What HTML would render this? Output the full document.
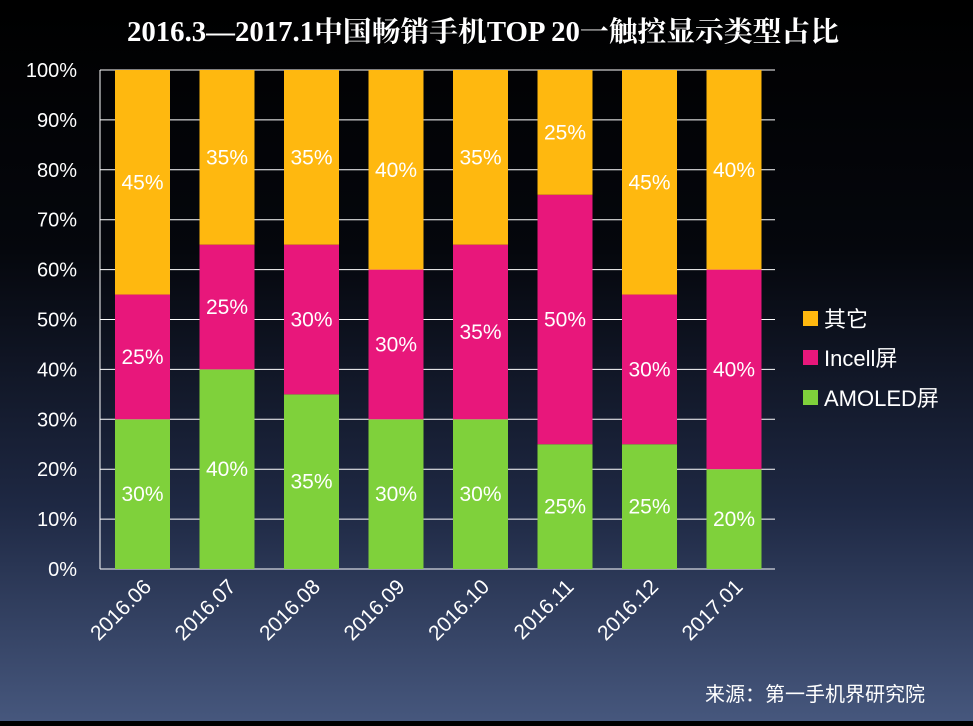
<!DOCTYPE html>
<html><head><meta charset="utf-8">
<style>
html,body{margin:0;padding:0;}
body{width:973px;height:721px;overflow:hidden;background:linear-gradient(to bottom,#000 0%,#05070d 35%,#1e2843 70%,#46577d 100%);font-family:"Liberation Sans","Noto Sans CJK SC",sans-serif;}
svg text{fill:#fff;}
</style></head>
<body>
<svg id="chart" width="973" height="721" xmlns="http://www.w3.org/2000/svg">
<text x="483" y="41" text-anchor="middle" font-family="Liberation Serif,Noto Serif CJK SC,serif" font-weight="bold" font-size="28" textLength="712" lengthAdjust="spacingAndGlyphs">2016.3—2017.1中国畅销手机TOP 20一触控显示类型占比</text>
<g id="grid"></g><g id="bars"></g><g id="labels"></g><g id="axes"></g>
<g>
<rect x="803" y="311" width="15" height="15" fill="#FFB80F"/>
<text x="824" y="327" font-size="22">其它</text>
<rect x="803" y="350" width="15" height="15" fill="#E8177B"/>
<text x="824" y="366" font-size="22">Incell屏</text>
<rect x="803" y="390" width="15" height="15" fill="#7FD13B"/>
<text x="824" y="406" font-size="22">AMOLED屏</text>
</g>
<text x="925" y="701" text-anchor="end" font-size="20">来源：第一手机界研究院</text>
</svg>
<script>
const categories=["2016.06","2016.07","2016.08","2016.09","2016.10","2016.11","2016.12","2017.01"];
const amoled=[30,40,35,30,30,25,25,20];
const incell=[25,25,30,30,35,50,30,40];
const other=[45,35,35,40,35,25,45,40];
const yTicks=[0,10,20,30,40,50,60,70,80,90,100];
const NS="http://www.w3.org/2000/svg";
const x0=100,x1=775,yB=569,yT=70,step=84.5,bw=55,off=15;
const y=v=>yB-(yB-yT)*v/100;
const xs=i=>x0+off+i*step;
function mk(tag,attrs,parent){const e=document.createElementNS(NS,tag);for(const k in attrs)e.setAttribute(k,attrs[k]);parent.appendChild(e);return e;}
const grid=document.getElementById('grid'),bars=document.getElementById('bars'),labels=document.getElementById('labels'),axes=document.getElementById('axes');
yTicks.forEach(t=>{
 const l=mk('line',{x1:x0,x2:x1,y1:y(t),y2:y(t),stroke:'#fff','stroke-width':1},grid);
 
 
 const tx=mk('text',{x:77,y:y(t)+7,'text-anchor':'end','font-size':20},axes);
 tx.textContent=t+'%';
 
 
});
const ax=mk('line',{x1:x0,x2:x0,y1:yT,y2:yB,stroke:'#fff','stroke-width':1},axes);


const series=[["amoled",amoled,"#7FD13B"],["incell",incell,"#E8177B"],["other",other,"#FFB80F"]];
categories.forEach((c,i)=>{
 let base=0;
 series.forEach(([n,arr,col])=>{
  const v=arr[i];
  const r=mk('rect',{x:xs(i),y:y(base+v),width:bw,height:y(base)-y(base+v),fill:col},bars);
  
  
  const t=mk('text',{x:xs(i)+bw/2,y:y(base+v/2)+7,'text-anchor':'middle','font-size':21},labels);
  t.textContent=v+'%';
  
  
  base+=v;
 });
 const cx=xs(i)+bw/2+10,cy=588;
 const xl=mk('text',{x:cx,y:cy,'text-anchor':'end','font-size':21,transform:`rotate(-45 ${cx} ${cy})`},axes);
 xl.textContent=c;
 
 
});
</script>
</body></html>
